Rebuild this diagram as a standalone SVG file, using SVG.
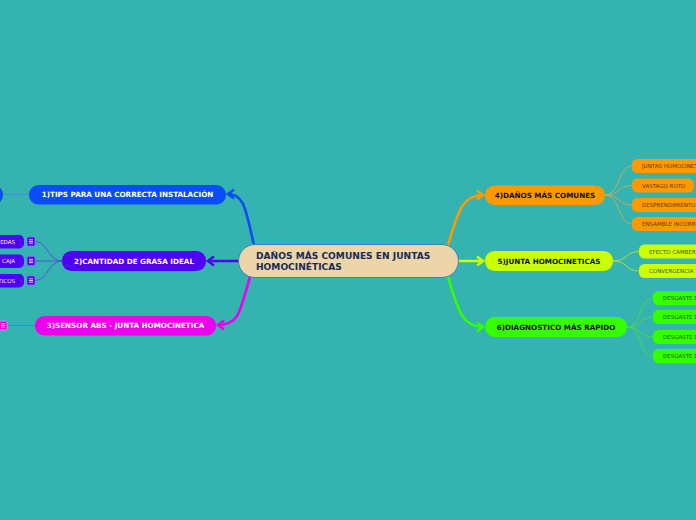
<svg xmlns="http://www.w3.org/2000/svg" width="696" height="520" viewBox="0 0 696 520">
<style>
.t{font-family:"DejaVu Sans",sans-serif;font-weight:bold;font-size:7.2px;text-anchor:middle}
.c{font-family:"DejaVu Sans",sans-serif;font-size:5.5px}
.main{fill:none;stroke-width:2.6;stroke-linecap:round}
.sub{fill:none;stroke-width:1}
</style>
<defs>
<marker id="aB" markerUnits="userSpaceOnUse" markerWidth="12" markerHeight="12" refX="7" refY="6" orient="auto"><path d="M1,1.5 L7,6 L1,10.5" fill="none" stroke="#0a4cf6" stroke-width="2.4"/></marker>
<marker id="aP" markerUnits="userSpaceOnUse" markerWidth="12" markerHeight="12" refX="7" refY="6" orient="auto"><path d="M1,1.5 L7,6 L1,10.5" fill="none" stroke="#5200f5" stroke-width="2.4"/></marker>
<marker id="aM" markerUnits="userSpaceOnUse" markerWidth="12" markerHeight="12" refX="7" refY="6" orient="auto"><path d="M1,1.5 L7,6 L1,10.5" fill="none" stroke="#ee00ee" stroke-width="2.4"/></marker>
<marker id="aO" markerUnits="userSpaceOnUse" markerWidth="12" markerHeight="12" refX="7" refY="6" orient="auto"><path d="M1,1.5 L7,6 L1,10.5" fill="none" stroke="#ff9900" stroke-width="2.4"/></marker>
<marker id="aY" markerUnits="userSpaceOnUse" markerWidth="12" markerHeight="12" refX="7" refY="6" orient="auto"><path d="M1,1.5 L7,6 L1,10.5" fill="none" stroke="#ccff00" stroke-width="2.4"/></marker>
<marker id="aG" markerUnits="userSpaceOnUse" markerWidth="12" markerHeight="12" refX="7" refY="6" orient="auto"><path d="M1,1.5 L7,6 L1,10.5" fill="none" stroke="#33ff00" stroke-width="2.4"/></marker>
<g id="noteP"><rect x="0" y="0" width="8" height="9" rx="1.5" fill="#5200f5" stroke="#8a6cff" stroke-width="0.8"/><path d="M2,2.8 H6 M2,4.5 H6 M2,6.2 H6" stroke="#ffffff" stroke-width="0.8"/></g>
<g id="noteM"><rect x="0" y="0" width="8" height="9" rx="1.5" fill="#ee00ee" stroke="#ff88ff" stroke-width="0.8"/><path d="M2,2.8 H6 M2,4.5 H6 M2,6.2 H6" stroke="#ffffff" stroke-width="0.8"/></g>
</defs>
<rect width="696" height="520" fill="#35b3b0"/>
<g id="connectors">
<path class="main" stroke="#0a4cf6" d="M254,245 C246,212 245,194 228,194" marker-end="url(#aB)"/>
<path class="main" stroke="#5200f5" d="M238,261 L208,261" marker-end="url(#aP)"/>
<path class="main" stroke="#ee00ee" d="M250,277 C240,310 240,325 218,325" marker-end="url(#aM)"/>
<path class="main" stroke="#ff9900" d="M448,245 C458,212 462,195 483,195" marker-end="url(#aO)"/>
<path class="main" stroke="#ccff00" d="M458,261 L483,261" marker-end="url(#aY)"/>
<path class="main" stroke="#33ff00" d="M448,277 C458,310 462,327 483,327" marker-end="url(#aG)"/>
<path class="sub" stroke="#3d8fe0" d="M3,194.5 L29,194.5"/>
<path class="sub" stroke="#7a6ad8" d="M7,325.5 L35,325.5"/>
<g stroke="#5a4ae0">
<path class="sub" d="M62,261 C48,261 48,241.5 35,241.5"/>
<path class="sub" d="M62,261 L35,261"/>
<path class="sub" d="M62,261 C48,261 48,280.5 35,280.5"/>
</g>
<g stroke="#c9a860">
<path class="sub" d="M605,195 C620,195 618,166 632,166"/>
<path class="sub" d="M605,195 C620,195 618,185.5 632,185.5"/>
<path class="sub" d="M605,195 C620,195 618,205 632,205"/>
<path class="sub" d="M605,195 C620,195 618,224 632,224"/>
</g>
<g stroke="#b6dc3a">
<path class="sub" d="M613,261 C628,261 625,251.5 639,251.5"/>
<path class="sub" d="M613,261 C628,261 625,271 639,271"/>
</g>
<g stroke="#4ada44">
<path class="sub" d="M627,327 C642,327 639,298 653,298"/>
<path class="sub" d="M627,327 C642,327 639,317 653,317"/>
<path class="sub" d="M627,327 C642,327 639,337 653,337"/>
<path class="sub" d="M627,327 C642,327 639,356 653,356"/>
</g>
</g>
<g id="central">
<rect x="238.5" y="244.5" width="220" height="33" rx="16.5" fill="#ecd5a8" stroke="#3a80c8" stroke-width="1"/>
<text x="256" y="259" font-family="DejaVu Sans,sans-serif" font-weight="bold" font-size="9.1" fill="#1b2a55">DAÑOS MÁS COMUNES EN JUNTAS</text>
<text x="256" y="270" font-family="DejaVu Sans,sans-serif" font-weight="bold" font-size="9.1" fill="#1b2a55">HOMOCINÉTICAS</text>
</g>
<g id="n1">
<rect x="29" y="185" width="197" height="19.5" rx="9.5" fill="#0a4cf6"/>
<text class="t" x="127.5" y="197.3" fill="#ffffff">1)TIPS PARA UNA CORRECTA INSTALACIÓN</text>
</g>
<g id="n1a"><rect x="-40" y="185" width="43" height="19.5" rx="9.5" fill="#0a4cf6"/></g>
<g id="n2">
<rect x="62" y="251" width="144" height="20" rx="9.5" fill="#5200f5"/>
<text class="t" x="134" y="263.5" fill="#ffffff">2)CANTIDAD DE GRASA IDEAL</text>
</g>
<g id="n2a"><rect x="-40" y="235" width="64" height="13.5" rx="5" fill="#5200f5"/><text class="c" x="15" y="243.8" fill="#ffffff" text-anchor="end">EDAS</text><use href="#noteP" x="27" y="237"/></g>
<g id="n2b"><rect x="-40" y="254.5" width="64" height="13.5" rx="5" fill="#5200f5"/><text class="c" x="15" y="263.3" fill="#ffffff" text-anchor="end">CAJA</text><use href="#noteP" x="27" y="256.5"/></g>
<g id="n2c"><rect x="-40" y="274" width="64" height="13.5" rx="5" fill="#5200f5"/><text class="c" x="15" y="282.8" fill="#ffffff" text-anchor="end">TICOS</text><use href="#noteP" x="27" y="276"/></g>
<g id="n3">
<rect x="35" y="316" width="181" height="19.5" rx="9.5" fill="#ee00ee"/>
<text class="t" x="125.5" y="328.3" fill="#ffffff">3)SENSOR ABS - JUNTA HOMOCINETICA</text>
</g>
<g id="n3a"><use href="#noteM" x="-1" y="321"/></g>
<g id="n4">
<rect x="485" y="185.5" width="120" height="19.5" rx="9.5" fill="#ff9900"/>
<text class="t" x="545" y="197.8" fill="#111111">4)DAÑOS MÁS COMUNES</text>
</g>
<g id="n4a"><rect x="632" y="159" width="90" height="14" rx="5.5" fill="#ff9900"/><text class="c" x="642" y="168" fill="#5a3a10">JUNTAS HOMOCINETICAS</text></g>
<g id="n4b"><rect x="632" y="178.5" width="62" height="14" rx="5.5" fill="#ff9900"/><text class="c" x="642" y="187.5" fill="#5a3a10">VASTAGO ROTO</text></g>
<g id="n4c"><rect x="632" y="198" width="90" height="14" rx="5.5" fill="#ff9900"/><text class="c" x="642" y="207" fill="#5a3a10">DESPRENDIMIENTO</text></g>
<g id="n4d"><rect x="632" y="217" width="90" height="14" rx="5.5" fill="#ff9900"/><text class="c" x="642" y="226" fill="#5a3a10">ENSAMBLE INCORRECTO</text></g>
<g id="n5">
<rect x="485" y="251" width="128" height="20" rx="9.5" fill="#ccff00"/>
<text class="t" x="549" y="263.5" fill="#111111">5)JUNTA HOMOCINETICAS</text>
</g>
<g id="n5a"><rect x="639" y="244.5" width="90" height="14" rx="5.5" fill="#ccff00"/><text class="c" x="649" y="253.5" fill="#4a5010">EFECTO CAMBER</text></g>
<g id="n5b"><rect x="639" y="264" width="90" height="14" rx="5.5" fill="#ccff00"/><text class="c" x="649" y="273" fill="#4a5010">CONVERGENCIA Y</text></g>
<g id="n6">
<rect x="485" y="317" width="142" height="20" rx="9.5" fill="#33ff00"/>
<text class="t" x="556" y="329.5" fill="#111111">6)DIAGNOSTICO MÁS RAPIDO</text>
</g>
<g id="n6a"><rect x="653" y="291" width="90" height="14" rx="5.5" fill="#33ff00"/><text class="c" x="663" y="300" fill="#1a5a10">DESGASTE DE</text></g>
<g id="n6b"><rect x="653" y="310" width="90" height="14" rx="5.5" fill="#33ff00"/><text class="c" x="663" y="319" fill="#1a5a10">DESGASTE DE</text></g>
<g id="n6c"><rect x="653" y="330" width="90" height="14" rx="5.5" fill="#33ff00"/><text class="c" x="663" y="339" fill="#1a5a10">DESGASTE DE</text></g>
<g id="n6d"><rect x="653" y="349" width="90" height="14" rx="5.5" fill="#33ff00"/><text class="c" x="663" y="358" fill="#1a5a10">DESGASTE DE</text></g>
</svg>
